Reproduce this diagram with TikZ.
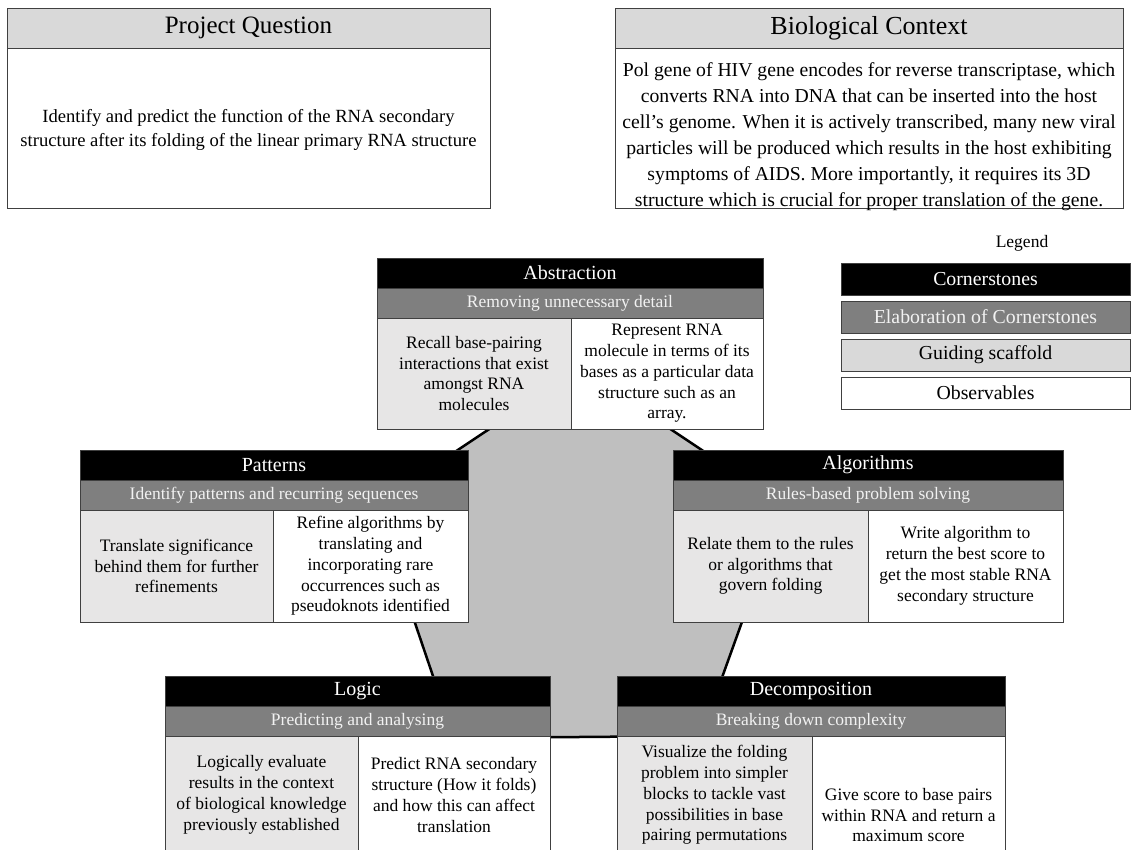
\documentclass[tikz,border=0pt]{standalone}
\usepackage{fontspec}
\setmainfont{Liberation Serif}
\definecolor{subgray}{HTML}{7F7F7F}
\definecolor{subtext}{HTML}{F2F2F2}
\definecolor{lightcell}{HTML}{E7E6E6}
\definecolor{scaffold}{HTML}{D9D9D9}
\definecolor{hexfill}{HTML}{BFBFBF}
\definecolor{edge}{HTML}{404040}
\newcommand\fBody{\fontsize{17.5}{20.8}\selectfont}
\newcommand\fHead{\fontsize{20}{23}\selectfont}
\newcommand\fTitle{\fontsize{25}{28}\selectfont}
\newcommand\fTitleB{\fontsize{26}{29}\selectfont}
\newcommand\fCtx{\fontsize{19.7}{26}\selectfont}
\newcommand\fPQ{\fontsize{18.6}{23.3}\selectfont}
\newcommand\fLeg{\fontsize{19.8}{22}\selectfont}
\newcommand\fLegT{\fontsize{17.5}{20}\selectfont}
\begin{document}
\begin{tikzpicture}[x=1pt,y=-1pt,
  cell/.style={draw=edge, line width=1pt, inner sep=0pt, outer sep=0pt, anchor=north west, align=center},
  hdr/.style={cell, fill=black, text=white, font=\fHead, minimum height=30},
  subh/.style={cell, fill=subgray, text=subtext, font=\fBody, minimum height=30},
  lcell/.style={cell, fill=lightcell, font=\fBody},
  rcell/.style={cell, fill=white, font=\fBody},
  legbox/.style={cell, font=\fLeg, minimum width=289, minimum height=32},
  bodytext/.style={inner sep=0pt, align=center}]
\clip (0,0) rectangle (1131,849);
\fill[white] (0,0) rectangle (1131,849);

% central hexagon
\coordinate (h1) at (533,400);
\coordinate (h2) at (627,400);
\coordinate (h3) at (784,505);
\coordinate (h4) at (701,736);
\coordinate (h5) at (454,738);
\coordinate (h6) at (375,505);
\draw[fill=hexfill, line width=2.5pt] (h1) -- (h2) -- (h3) -- (h4) -- (h5) -- (h6) -- cycle;

% Project Question
\node[cell, fill=scaffold, minimum width=483, minimum height=40, font=\fTitle] (pqH) at (7,8) {Project Question};
\node[cell, fill=white, minimum width=483, minimum height=160] (pqB) at (pqH.south west) {};
\node[bodytext, font=\fPQ] (pqT) at ([yshift=-2pt]pqB.center)
  {Identify and predict the function of the RNA secondary\\structure after its folding of the linear primary RNA structure};

% Biological Context
\node[cell, fill=scaffold, minimum width=508, minimum height=40, font=\fTitleB] (bcH) at (615,8) {Biological Context};
\node[cell, fill=white, minimum width=508, minimum height=160] (bcB) at (bcH.south west) {};
\node[bodytext, font=\fCtx] (bcT) at ([yshift=-9pt]bcB.center)
  {Pol gene of HIV gene encodes for reverse transcriptase, which\\converts RNA into DNA that can be inserted into the host\\cell’s genome. When it is actively transcribed, many new viral\\particles will be produced which results in the host exhibiting\\symptoms of AIDS. More importantly, it requires its 3D\\structure which is crucial for proper translation of the gene.};

% Legend
\node[font=\fLegT, inner sep=0pt] (legT) at (1022,243) {Legend};
\node[legbox, fill=black, text=white] (lg1) at (841,263) {Cornerstones};
\node[legbox, fill=subgray, text=subtext] (lg2) at (841,301) {Elaboration of Cornerstones};
\node[legbox, fill=scaffold] (lg3) at (841,339) {Guiding scaffold};
\node[legbox, fill=white] (lg4) at (841,377) {Observables};

% Abstraction
\node[hdr, minimum width=386] (absH) at (377,258) {Abstraction};
\node[subh, minimum width=386] (absS) at (absH.south west) {Removing unnecessary detail};
\node[lcell, minimum width=194, minimum height=111] (absL) at (absS.south west)
  {Recall base-pairing\\interactions that exist\\amongst RNA\\molecules};
\node[rcell, minimum width=192, minimum height=111] (absR) at (absL.north east)
  {Represent RNA\\molecule in terms of its\\bases as a particular data\\structure such as an\\array.};

% Patterns
\node[hdr, minimum width=388] (patH) at (80,450) {Patterns};
\node[subh, minimum width=388] (patS) at (patH.south west) {Identify patterns and recurring sequences};
\node[lcell, minimum width=193, minimum height=112] (patL) at (patS.south west)
  {Translate significance\\behind them for further\\refinements};
\node[rcell, minimum width=195, minimum height=112] (patR) at (patL.north east)
  {Refine algorithms by\\translating and\\incorporating rare\\occurrences such as\\pseudoknots identified};

% Algorithms
\node[hdr, minimum width=390] (algH) at (673,450) {Algorithms};
\node[subh, minimum width=390] (algS) at (algH.south west) {Rules-based problem solving};
\node[lcell, minimum width=195, minimum height=112] (algL) at (algS.south west)
  {Relate them to the rules\\or algorithms that\\govern folding};
\node[rcell, minimum width=195, minimum height=112] (algR) at (algL.north east)
  {Write algorithm to\\return the best score to\\get the most stable RNA\\secondary structure};

% Logic
\node[hdr, minimum width=385] (logH) at (165,676) {Logic};
\node[subh, minimum width=385] (logS) at (logH.south west) {Predicting and analysing};
\node[lcell, minimum width=193, minimum height=118] (logL) at (logS.south west)
  {Logically evaluate\\results in the context\\of biological knowledge\\previously established};
\node[rcell, minimum width=192, minimum height=118] (logR) at (logL.north east)
  {Predict RNA secondary\\structure (How it folds)\\and how this can affect\\translation};

% Decomposition
\node[hdr, minimum width=388] (decH) at (617,676) {Decomposition};
\node[subh, minimum width=388] (decS) at (decH.south west) {Breaking down complexity};
\node[lcell, minimum width=195, minimum height=118] (decL) at (decS.south west)
  {Visualize the folding\\problem into simpler\\blocks to tackle vast\\possibilities in base\\pairing permutations};
\node[rcell, minimum width=193, minimum height=158] (decR) at (decL.north east)
  {Give score to base pairs\\within RNA and return a\\maximum score};
\end{tikzpicture}
\end{document}
